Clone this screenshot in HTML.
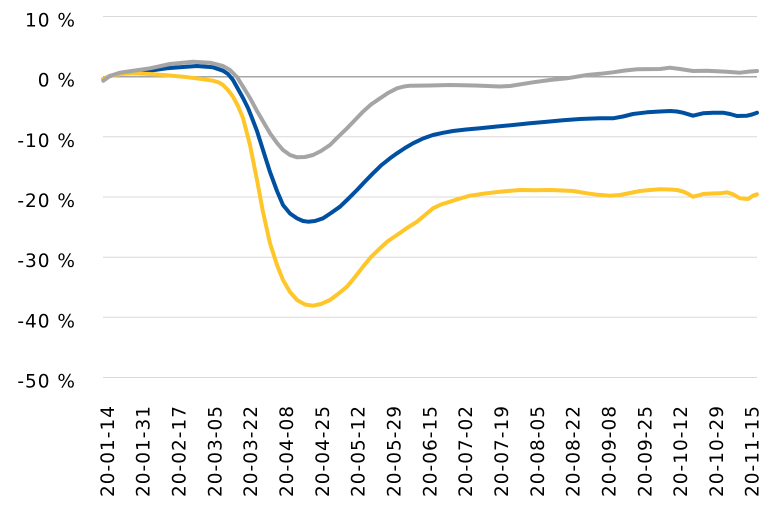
<!DOCTYPE html>
<html><head><meta charset="utf-8"><style>
html,body{margin:0;padding:0;background:#fff;}
svg{display:block;}
text{font-family:"DejaVu Sans","Liberation Sans",sans-serif;font-size:18.5px;fill:#000;letter-spacing:1px;}
</style></head><body>
<svg width="778" height="518" viewBox="0 0 778 518" xmlns="http://www.w3.org/2000/svg">
<g stroke="#D9D9D9" stroke-width="1">
<line x1="103" y1="16.5" x2="757" y2="16.5"/>
<line x1="103" y1="136.8" x2="757" y2="136.8"/>
<line x1="103" y1="197" x2="757" y2="197"/>
<line x1="103" y1="257.2" x2="757" y2="257.2"/>
<line x1="103" y1="317.3" x2="757" y2="317.3"/>
<line x1="103" y1="377.5" x2="757" y2="377.5"/>
</g>
<line x1="103" y1="76.7" x2="757" y2="76.7" stroke="#A6A6A6" stroke-width="1.5"/>
<g text-anchor="end">
<text x="76" y="26.5">10 %</text>
<text x="76" y="86.7">0 %</text>
<text x="76" y="146.8">-10 %</text>
<text x="76" y="207">-20 %</text>
<text x="76" y="267.2">-30 %</text>
<text x="76" y="327.3">-40 %</text>
<text x="76" y="387.5">-50 %</text>
</g>
<g fill="none" stroke-width="4" stroke-linejoin="round" stroke-linecap="round">
<polyline stroke="#0050A2" points="103.3,79 110,76 120,73.5 135,72 150,70.7 167,68.3 183,67 197,66 213,67.3 223,70.7 228,74 233,80 238,89 243,98 248,108 252,118 257,131 263,150 270,172 277,191 283,205 290,213.5 297,218.3 303,221 308,221.7 315,221 323,218.3 331,213 340,206.7 348,199 357,190 365,181.5 373,173.3 381,165.5 390,158.3 397,153.3 405,148 413,143.3 423,138.5 433,135 443,132.8 453,131 466,129.5 480,128.3 497,126.5 513,125 530,123.3 547,121.7 563,120.3 580,119 600,118.3 613,118.3 623,116.5 633,114 647,112.3 660,111.5 670,111 677,111.5 683,112.7 693,115.7 703,113.3 713,112.7 723,112.7 730,114 737,116 747,115.7 752,114.5 757,112.7"/>
<polyline stroke="#FFC629" points="103.3,79 110,76 120,74 133,73.3 150,74 167,75.3 183,76.7 198,78.5 213,80.7 219,82.5 223,85 228,90 233,96.7 238,106 243,118 250,145 257,180 263,212 270,243.3 277,265 283,280 290,292 297,300 305,304.5 313,305.7 321,304 330,300 338,294 347,286.7 355,277 363,266.7 371,257 380,248.3 388,241 397,235 407,228 417,221.7 425,215 433,208.3 441,204.5 450,201.7 460,198.5 470,195.7 485,193.5 500,191.7 520,190 535,190.3 550,190 563,190.5 573,191 587,193.3 598,194.8 610,195.7 620,195 630,193 640,191 650,190 660,189.3 670,189.5 677,190 683,191.5 687,193.3 693,196.7 698,195.5 703,194 712,193.5 720,193.3 727,192.3 733,194.3 740,198.3 748,199 753,195.7 757,194.3"/>
<polyline stroke="#A5A5A5" points="103.3,80.7 110,76 120,72.7 135,70.5 150,68.3 170,64 193,61.7 210,62.7 223,66 230,70 237,77 243,86.7 250,98 257,111 264,123 270,133.3 277,143 283,150 290,155 297,157.3 305,157 313,155 321,151 330,145 338,137 347,128.3 355,120 363,111.7 371,104.5 380,98.3 388,93 397,88.3 404,86.5 410,85.7 430,85.5 450,85 475,85.5 500,86.5 510,86 533,82.3 550,80 567,78.3 587,75 600,73.8 613,72.3 625,70.5 637,69.3 660,69 670,67.7 680,69 693,71 707,70.7 727,71.7 740,72.7 750,71.5 757,71"/>
</g>
<g text-anchor="end">
<text transform="translate(113.8,405) rotate(-90)">20-01-14</text>
<text transform="translate(149.6,405) rotate(-90)">20-01-31</text>
<text transform="translate(185.5,405) rotate(-90)">20-02-17</text>
<text transform="translate(221.3,405) rotate(-90)">20-03-05</text>
<text transform="translate(257.1,405) rotate(-90)">20-03-22</text>
<text transform="translate(293,405) rotate(-90)">20-04-08</text>
<text transform="translate(328.8,405) rotate(-90)">20-04-25</text>
<text transform="translate(364.6,405) rotate(-90)">20-05-12</text>
<text transform="translate(400.4,405) rotate(-90)">20-05-29</text>
<text transform="translate(436.3,405) rotate(-90)">20-06-15</text>
<text transform="translate(472.1,405) rotate(-90)">20-07-02</text>
<text transform="translate(507.9,405) rotate(-90)">20-07-19</text>
<text transform="translate(543.8,405) rotate(-90)">20-08-05</text>
<text transform="translate(579.6,405) rotate(-90)">20-08-22</text>
<text transform="translate(615.4,405) rotate(-90)">20-09-08</text>
<text transform="translate(651.3,405) rotate(-90)">20-09-25</text>
<text transform="translate(687.1,405) rotate(-90)">20-10-12</text>
<text transform="translate(722.9,405) rotate(-90)">20-10-29</text>
<text transform="translate(758.7,405) rotate(-90)">20-11-15</text>
</g>
</svg>
</body></html>
